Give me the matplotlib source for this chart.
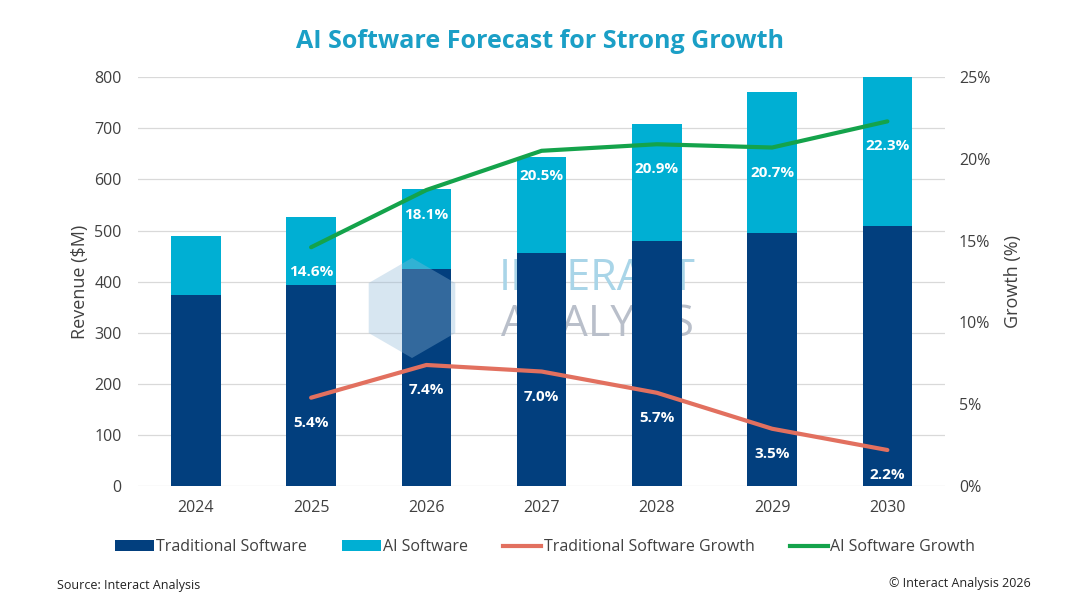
import matplotlib.pyplot as plt
import numpy as np
from matplotlib.patches import Polygon, Patch
from matplotlib.lines import Line2D

plt.rcParams["font.family"] = ["Open Sans", "DejaVu Sans"]

years = ["2024", "2025", "2026", "2027", "2028", "2029", "2030"]
traditional = [374, 394, 425, 455, 480, 496, 508]
ai_software = [116, 133, 156, 188, 228, 276, 294]
trad_growth = [None, 5.4, 7.4, 7.0, 5.7, 3.5, 2.2]
ai_growth = [None, 14.6, 18.1, 20.5, 20.9, 20.7, 22.3]

NAVY = "#023f7e"
CYAN = "#00afd3"
SALMON = "#e2705f"
GREEN = "#14a34b"
TITLE = "#1b9fc6"
TEXT = "#404040"

W, H = 1080, 608
fig = plt.figure(figsize=(W / 100, H / 100), dpi=100)
ax = fig.add_axes([0.128, 0.2007, 0.747, 0.6723])
ax2 = ax.twinx()

x = np.arange(len(years))
ax.bar(x, traditional, width=0.43, color=NAVY, zorder=2)
ax.bar(x, ai_software, width=0.43, bottom=traditional, color=CYAN, zorder=2)

ax.set_xlim(-0.5, 6.5)
ax.set_ylim(0, 800)
ax.set_yticks(range(0, 801, 100))
ax.yaxis.grid(True, color="#d9d9d9", linewidth=0.9, zorder=0)
ax.set_axisbelow(True)
ax.set_xticks(x)
ax.set_xticklabels(years)
ax.tick_params(axis="both", length=0, labelsize=11.5, labelcolor=TEXT, pad=10)
ax.tick_params(axis="y", pad=12)
ax.set_ylabel("Revenue ($M)", fontsize=13, color=TEXT, labelpad=4)
for s in ax.spines.values():
    s.set_visible(False)

# watermark (behind bars, like the original)
ax.text(3.48, 405, "INTERACT", fontsize=31, color="#a9d5e8", ha="center", va="center",
        zorder=1.5)
ax.text(3.48, 315, "ANALYSIS", fontsize=31, color="#b9bfca", ha="center", va="center",
        zorder=1.5)
cx, cy, r = 412 / W, 1 - 308 / H, 50
ang = np.deg2rad(np.arange(30, 390, 60))
hex_pts = np.column_stack([cx + r * np.cos(ang) / W, cy + r * np.sin(ang) / H])
fig.patches.append(Polygon(hex_pts, closed=True, transform=fig.transFigure,
                           facecolor="#8fb8d8", edgecolor="none", alpha=0.35, zorder=3))

tg_x = [i for i, v in enumerate(trad_growth) if v is not None]
tg_y = [v for v in trad_growth if v is not None]
ag_y = [v for v in ai_growth if v is not None]
ax2.plot(tg_x, tg_y, color=SALMON, linewidth=3, zorder=4, solid_capstyle="round")
ax2.plot(tg_x, ag_y, color=GREEN, linewidth=3, zorder=4, solid_capstyle="round")
ax2.set_ylim(0, 25)
ax2.set_yticks(range(0, 26, 5))
ax2.set_yticklabels([f"{v}%" for v in range(0, 26, 5)])
ax2.tick_params(axis="y", length=0, labelsize=11.5, labelcolor=TEXT, pad=10)
ax2.set_ylabel("Growth (%)", fontsize=13, color=TEXT, labelpad=10)
for s in ax2.spines.values():
    s.set_visible(False)

# data labels below the points
for xi, v in zip(tg_x, tg_y):
    ax2.annotate(f"{v}%", (xi, v), xytext=(0, -18), textcoords="offset points",
                 ha="center", va="center", color="white", fontsize=11,
                 fontweight="bold", zorder=5)
for xi, v in zip(tg_x, ag_y):
    ax2.annotate(f"{v}%", (xi, v), xytext=(0, -18), textcoords="offset points",
                 ha="center", va="center", color="white", fontsize=11,
                 fontweight="bold", zorder=5)

fig.text(0.5, 0.932, "AI Software Forecast for Strong Growth", ha="center", va="center",
         fontsize=18, fontweight="bold", color=TITLE)

handles = [
    Patch(facecolor=NAVY, edgecolor="none"),
    Patch(facecolor=CYAN, edgecolor="none"),
    Line2D([0], [0], color=SALMON, linewidth=3),
    Line2D([0], [0], color=GREEN, linewidth=3),
]
labels = ["Traditional Software", "AI Software", "Traditional Software Growth", "AI Software Growth"]
fig.legend(handles, labels, loc="center", bbox_to_anchor=(0.505, 0.1), ncol=4, frameon=False,
           fontsize=11.5, handlelength=2.4, handleheight=0.7, handletextpad=0.15,
           columnspacing=2.2, labelcolor=TEXT)

fig.text(0.053, 0.037, "Source: Interact Analysis", fontsize=9, color="#222222",
         ha="left", va="center")
fig.text(0.954, 0.041, "\u00a9 Interact Analysis 2026", fontsize=9, color="#222222",
         ha="right", va="center")

fig.savefig("out.png", dpi=100)
